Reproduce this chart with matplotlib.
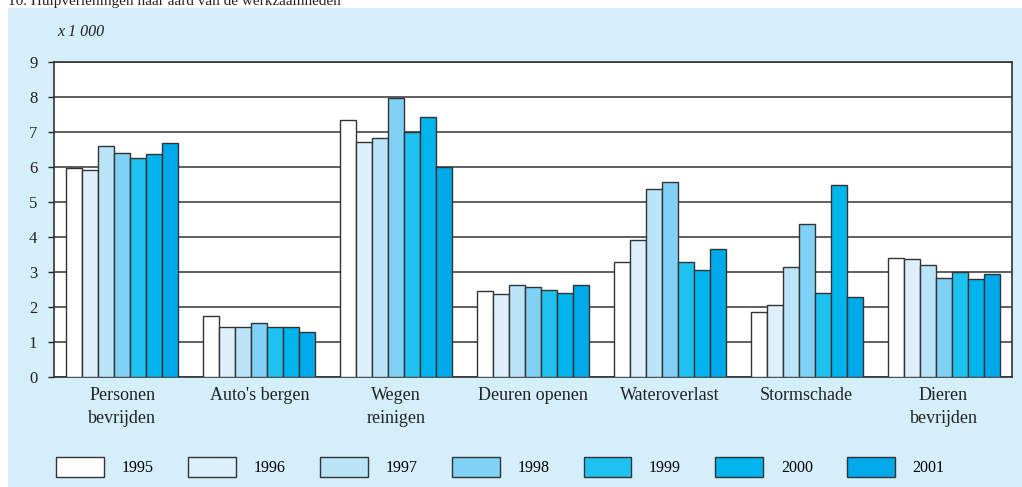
import numpy as np
import matplotlib.pyplot as plt
from matplotlib.patches import Rectangle

# hulpverleningen naar aard van de werkzaamheden (x 1 000)
categories = ["Personen\nbevrijden", "Auto's bergen", "Wegen\nreinigen", "Deuren openen",
              "Wateroverlast", "Stormschade", "Dieren\nbevrijden"]
years = ["1995", "1996", "1997", "1998", "1999", "2000", "2001"]

v1995 = [5.96, 1.73, 7.34, 2.47, 3.29, 1.85, 3.40]
v1996 = [5.92, 1.44, 6.72, 2.36, 3.91, 2.05, 3.37]
v1997 = [6.60, 1.44, 6.84, 2.62, 5.38, 3.14, 3.20]
v1998 = [6.39, 1.55, 7.97, 2.58, 5.56, 4.36, 2.83]
v1999 = [6.27, 1.44, 6.99, 2.50, 3.28, 2.40, 2.99]
v2000 = [6.36, 1.43, 7.42, 2.40, 3.05, 5.50, 2.81]
v2001 = [6.69, 1.28, 5.99, 2.62, 3.66, 2.29, 2.93]
series = [v1995, v1996, v1997, v1998, v1999, v2000, v2001]

colors = ["#ffffff", "#ddf0fc", "#bae5f9", "#7fd1f5", "#1dc2f0", "#00b4ed", "#00aaea"]
panel = "#d4eefa"

plt.rcParams['font.family'] = ['Liberation Serif', 'DejaVu Serif']

fig = plt.figure(figsize=(10.22, 4.87), dpi=100)
fig.patch.set_facecolor("white")
# light blue panel behind everything
fig.patches.append(Rectangle((8/1022, 0), 1 - 8/1022, 1 - 8/487, transform=fig.transFigure,
                             facecolor=panel, edgecolor="none", zorder=-5))
fig.text(8/1022, 1 - 5/487, "10. Hulpverleningen naar aard van de werkzaamheden",
         fontsize=11, va="baseline", ha="left", color="#222222")

ax = fig.add_axes([54/1022, 1 - 377/487, (1012 - 54)/1022, (377 - 62)/487])
ax.set_facecolor("white")

x = np.arange(len(categories)) + 0.5
w = 0.117
for i, vals in enumerate(series):
    ax.bar(x + (i - 3) * w, vals, width=w, color=colors[i], edgecolor="#333333",
           linewidth=1.0, label=years[i], zorder=3)

ax.set_xlim(0, 7)
ax.set_ylim(0, 9)
ax.set_yticks(range(10))
ax.yaxis.grid(True, color="#444444", linewidth=1.2, zorder=0)
ax.set_axisbelow(True)
ax.set_xticks(x)
ax.set_xticklabels(categories, fontsize=13, linespacing=1.5, color="#222222")
ax.tick_params(axis="x", length=0, pad=7)
ax.tick_params(axis="y", length=4, width=1, labelsize=12, pad=8, colors="#222222")
for s in ax.spines.values():
    s.set_color("#333333")
    s.set_linewidth(1.2)

fig.text(57/1022, 1 - 32/487, "x 1 000", fontsize=11.5, style="italic", va="center",
         color="#222222")

fig.legend(loc="center left", bbox_to_anchor=(50/1022, 1 - 467/487), ncol=7,
           frameon=False, fontsize=11.5, handlelength=3.0, handleheight=1.6,
           columnspacing=2.15, handletextpad=1.1, borderaxespad=0)

fig.savefig("out.png", dpi=100, facecolor=fig.get_facecolor())
